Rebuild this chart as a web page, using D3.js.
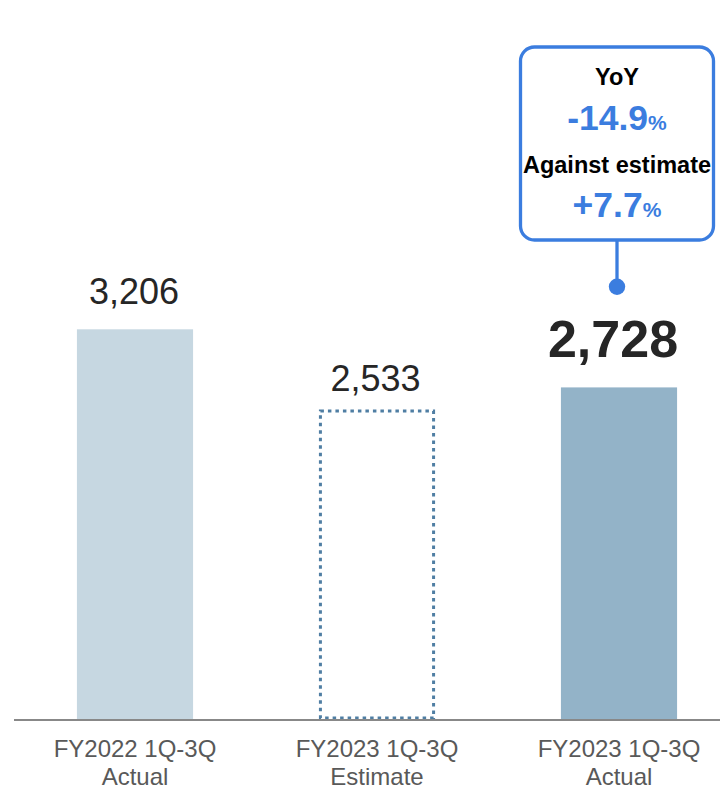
<!DOCTYPE html>
<html>
<head>
<meta charset="utf-8">
<script src="https://cdn.jsdelivr.net/npm/d3@7/dist/d3.min.js"></script>
<style>
  html, body { margin: 0; padding: 0; background: #ffffff; }
  svg { display: block; font-family: "Liberation Sans", Arial, Helvetica, sans-serif; }
</style>
</head>
<body>
<svg id="chart" width="720" height="788"></svg>
<script>
// ---- data ----
const categoriesLine1 = ["FY2022 1Q-3Q", "FY2023 1Q-3Q", "FY2023 1Q-3Q"];
const categoriesLine2 = ["Actual", "Estimate", "Actual"];
const values = [3206, 2533, 2728];
const barKinds = ["solid", "dotted", "solid"];
const calloutTitles = ["YoY", "Against estimate"];
const calloutValues = ["-14.9", "+7.7"];
const calloutUnit = "%";

// ---- styles ----
const W = 720, H = 788;
const baseY = 719;
const svg = d3.select("#chart");
const keys = d3.range(values.length);

const x = d3.scaleBand()
  .domain(keys)
  .range([14, 740])
  .paddingInner(0.52)
  .paddingOuter(0.26);

const y = d3.scaleLinear()
  .domain([0, 3206])
  .range([baseY, 329.3]);

const fills = ["#c6d7e1", "none", "#93b3c8"];
const blue = "#3b7ddf";

// bars
keys.forEach(i => {
  if (barKinds[i] === "solid") {
    svg.append("rect")
      .attr("x", x(i))
      .attr("y", y(values[i]))
      .attr("width", x.bandwidth())
      .attr("height", y(0) - y(values[i]))
      .attr("fill", fills[i]);
  } else {
    svg.append("rect")
      .attr("x", x(i) + 1.5)
      .attr("y", y(values[i]))
      .attr("width", x.bandwidth() - 3)
      .attr("height", y(0) - y(values[i]) - 1)
      .attr("fill", "none")
      .attr("stroke", "#4f7ea3")
      .attr("stroke-width", 3)
      .attr("stroke-dasharray", "3.5,4");
  }
});

// axis line
svg.append("line")
  .attr("x1", 14).attr("x2", W)
  .attr("y1", baseY + 1).attr("y2", baseY + 1)
  .attr("stroke", "#888888")
  .attr("stroke-width", 2);

// category labels
const xAxis = d3.axisBottom(x).tickSize(0).tickFormat(() => "");
const axisG = svg.append("g").attr("transform", `translate(0,${baseY})`).call(xAxis);
axisG.select(".domain").remove();
axisG.selectAll(".tick").each(function(d) {
  const t = d3.select(this).append("text")
    .attr("text-anchor", "middle")
    .attr("fill", "#595959")
    .attr("font-size", 24)
    .style("font-family", '"Liberation Sans", Arial, sans-serif');
  t.append("tspan").attr("x", 0).attr("y", 37.5).text(categoriesLine1[d]);
  t.append("tspan").attr("x", 0).attr("y", 65.5).text(categoriesLine2[d]);
});

// value labels
const fmt = d3.format(",");
const labelGap = [25, 20.5, 30.5];
const labelSize = [36, 36, 52];
const labelWeight = ["normal", "normal", "bold"];
const labelDx = [-1, -1.5, -6];
keys.forEach(i => {
  svg.append("text")
    .attr("x", x(i) + x.bandwidth() / 2 + labelDx[i])
    .attr("y", y(values[i]) - labelGap[i])
    .attr("text-anchor", "middle")
    .attr("font-size", labelSize[i])
    .attr("font-weight", labelWeight[i])
    .attr("fill", "#262626")
    .text(fmt(values[i]));
});

// callout
const cx = x(2) + x.bandwidth() / 2 - 2;
const boxW = 193, boxTop = 47, boxBottom = 240;
svg.append("line")
  .attr("x1", cx).attr("x2", cx)
  .attr("y1", boxBottom).attr("y2", 286.7)
  .attr("stroke", blue).attr("stroke-width", 3.3);
svg.append("circle")
  .attr("cx", cx).attr("cy", 286.7).attr("r", 8.2)
  .attr("fill", blue);
svg.append("rect")
  .attr("x", cx - boxW / 2)
  .attr("y", boxTop)
  .attr("width", boxW)
  .attr("height", boxBottom - boxTop)
  .attr("rx", 14).attr("ry", 14)
  .attr("fill", "#ffffff")
  .attr("stroke", blue)
  .attr("stroke-width", 3.3);

const titleY = [85, 173];
const valueY = [130, 216.7];
calloutTitles.forEach((t, i) => {
  svg.append("text")
    .attr("x", cx).attr("y", titleY[i])
    .attr("text-anchor", "middle")
    .attr("font-size", 23.5)
    .attr("font-weight", "bold")
    .attr("fill", "#000000")
    .text(t);
  const v = svg.append("text")
    .attr("x", cx).attr("y", valueY[i])
    .attr("text-anchor", "middle")
    .attr("font-weight", "bold")
    .attr("fill", blue);
  v.append("tspan").attr("font-size", 35.5).text(calloutValues[i]);
  v.append("tspan").attr("font-size", 21).text(calloutUnit);
});
</script>
</body>
</html>
